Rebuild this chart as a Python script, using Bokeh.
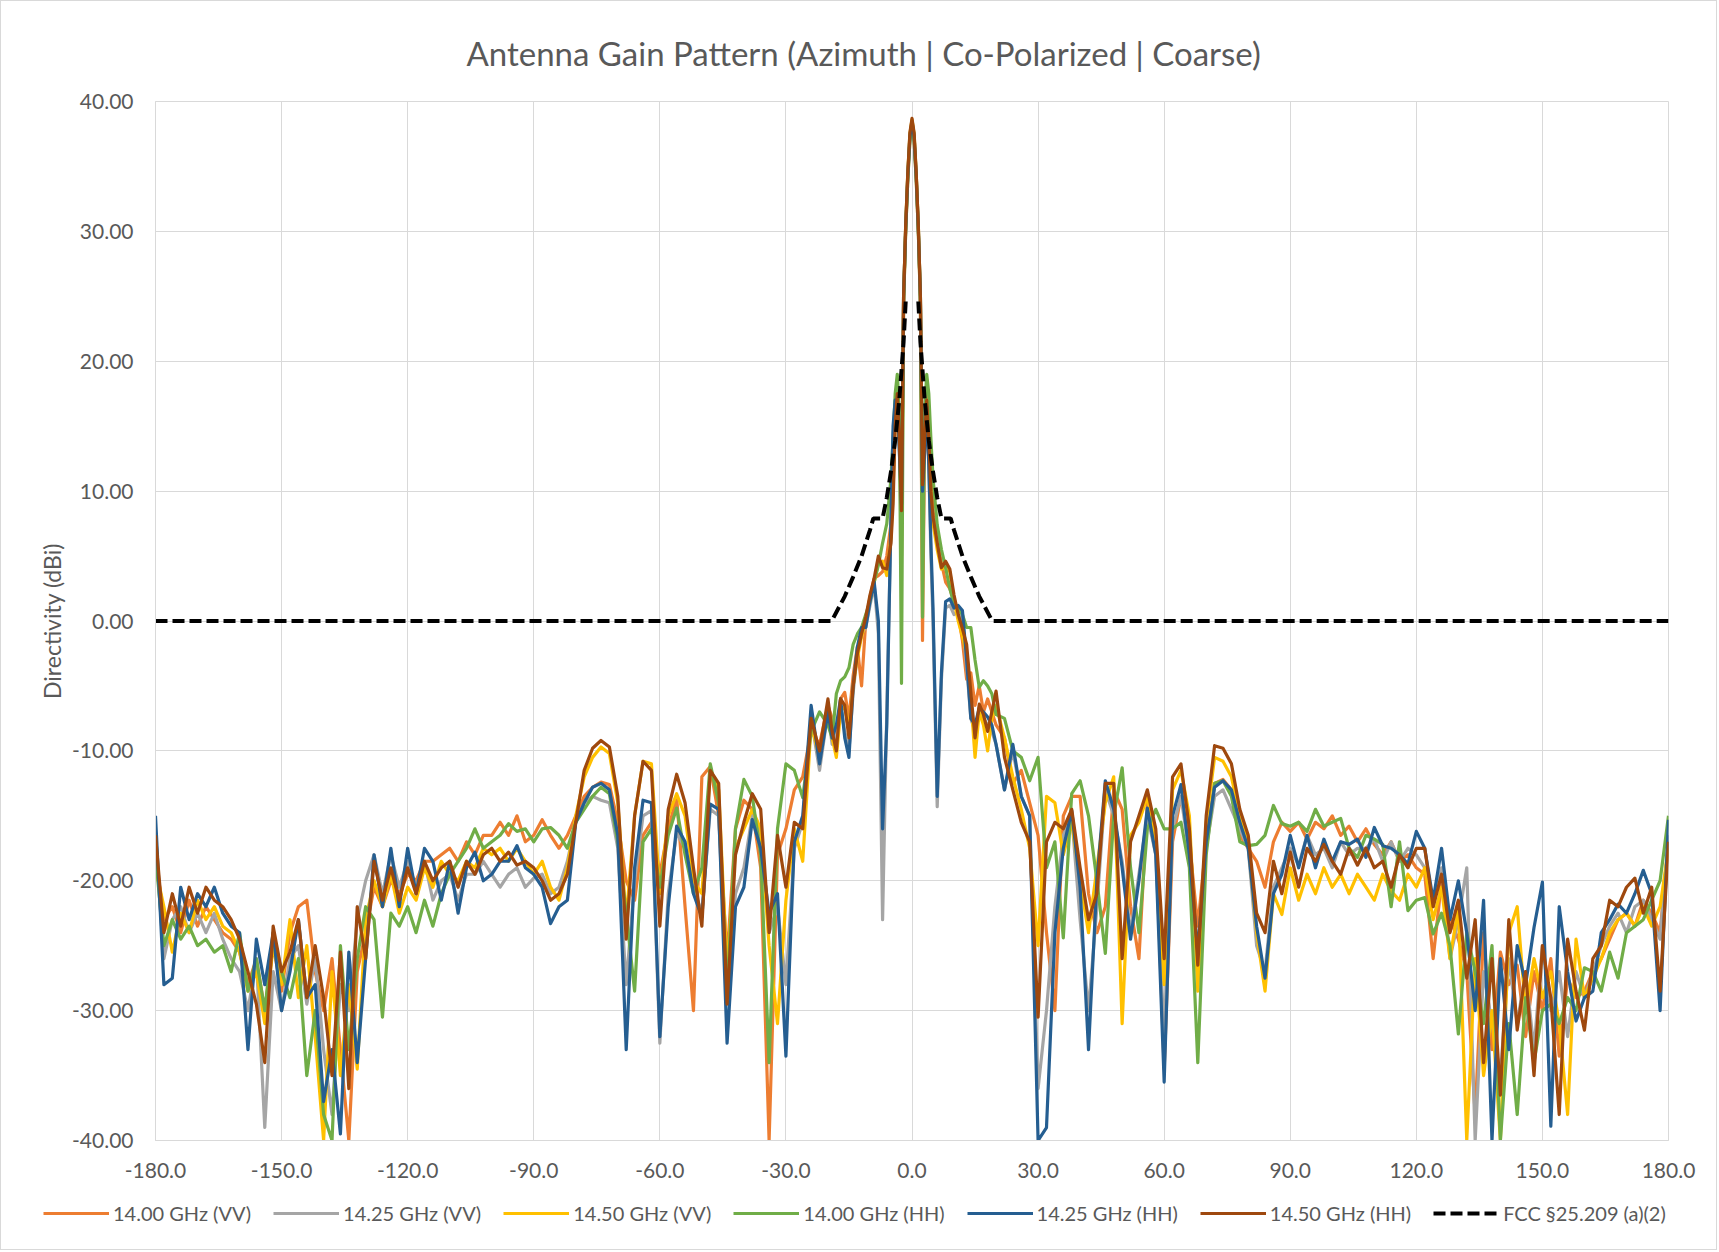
import math
from bokeh.plotting import figure
from bokeh.layouts import column
from bokeh.models import Legend, LegendItem, FixedTicker, NumeralTickFormatter, Range1d
from bokeh.embed import file_html
from bokeh.resources import INLINE

# ---------------- data ----------------
# azimuth grid (deg): 2 deg outside +-20, 1 deg to +-5, 0.5 deg in main lobe
angles = (list(range(-180, -21, 2)) + list(range(-20, -4)) + [k / 2 for k in range(-9, 10)]
          + list(range(5, 21)) + list(range(22, 181, 2)))

vv_1400 = ([-18, -23, -22, -24, -21.5, -23.5, -22, -23, -24, -24.5]
           + [-25.5, -28, -26, -30, -25, -28.5, -24, -22, -21.5, -27]
           + [-30, -26, -33, -40, -27, -24, -20.5, -22, -20, -21]
           + [-19.5, -20, -18.5, -18.5, -18, -17.5, -18.5, -17, -18, -16.5]
           + [-16.5, -15.5, -16.5, -15, -17, -16.5, -15.3, -16.5, -17.5, -16.5]
           + [-15, -13.5, -12.8, -12.4, -12.6, -15.5, -20, -21.5, -16.5, -15.5]
           + [-19.5, -16, -13.6, -22, -30, -12, -11.2, -15, -26, -16]
           + [-13.8, -14.5, -19, -40, -18, -16, -13, -12, -8.5, -9.5]
           + [-6.5, -7.5, -9.5, -6, -5.5, -7.5, -4.2, -2, -5, 0, 1.8, 3.3, 3.5, 3.8, 5, 7.5]
           + [12, 16, 17.5, 15, 5, 24.5, 30, 34, 37, 38.2, 37, 34, 30, 24.5, -1.5, 14, 18, 15, 11]
           + [8.5, 6, 4.5, 3, 2.5, 1.5, 0.5, -1.5, -4.5, -4, -6.5, -5, -7, -6, -7, -8]
           + [-9, -12.5, -11.5, -14, -16.5, -24, -30, -15, -13.5, -13.5]
           + [-21, -24, -22, -13, -14.5, -22, -26, -14, -16.5, -34.5]
           + [-17, -13.5, -17, -23.5, -17, -12.5, -12.2, -13, -16.5, -17.5]
           + [-18.5, -20.5, -17, -15.5, -16.2, -15.5, -16.8, -15.5, -16, -15]
           + [-16.5, -15.8, -17, -16, -17.2, -18, -17, -18.5, -18, -19]
           + [-19.5, -26, -20, -23, -24.5, -27, -38, -24, -33, -25.5]
           + [-28, -26.5, -32, -27, -30, -26, -33.5, -27.5, -29, -28.5]
           + [-27, -26, -24.5, -23, -22.5, -23.5, -21.5, -22.5, -24, -17])

vv_1425 = ([-17, -26, -23, -22, -24, -22.5, -24, -22.5, -24.5, -26]
           + [-27, -30, -26, -39, -27, -30, -26, -25, -29.5, -26]
           + [-33, -38, -28, -30, -23, -20, -18, -21, -18, -20.5]
           + [-18.5, -20.5, -18.5, -21.5, -20, -19.5, -21.5, -19.5, -19.5, -18.5]
           + [-19.5, -20.5, -19.5, -19, -20.5, -19.8, -19.5, -21, -20.5, -18.5]
           + [-15.5, -14, -13.5, -13.8, -14, -17.5, -28, -20, -15, -14.6]
           + [-32.5, -21, -16.3, -17.5, -20.5, -22.5, -14.5, -15, -29, -21]
           + [-19, -15, -16.5, -24, -22, -28, -17.5, -15.5, -7.5, -11.5]
           + [-7, -9.5, -8.5, -6.5, -8.5, -10, -5.5, -2.5, -1, -0.5, 1.2, 2.8, -1, -23, -7, 7.5]
           + [14, 16.5, 17, 13, 8, 25, 30.3, 34.4, 37.4, 38.5, 37.4, 34.4, 30.3, 25, 9.5, 13, 16.5, 12, 5]
           + [0, -14.3, -4.5, 1, 1.2, 0.5, 0.8, 0, -3.5, -7.5, -8.5, -7, -7.5, -8, -8.5, -9.5]
           + [-13, -10, -13.5, -15, -36, -30, -22, -16.5, -15, -23]
           + [-30, -22, -13, -15, -18.5, -24, -19.5, -15, -18, -32]
           + [-16, -13.5, -18, -26, -17.5, -13.5, -13, -14.5, -16, -17.5]
           + [-25, -27, -20.5, -19, -17.5, -18.8, -16.5, -18, -17.5, -19]
           + [-17, -18, -17.5, -17.5, -16.8, -18.5, -17, -18.5, -17.5, -18]
           + [-19, -22, -19, -26, -23, -19, -40, -27, -31, -35]
           + [-26, -31, -27, -33, -25, -30, -27, -32, -27, -29]
           + [-27, -25, -23.5, -22.5, -24, -22, -21.5, -23, -24.5, -16.5])

vv_1450 = ([-19, -22, -25.5, -22.5, -24, -21.5, -23, -22, -23.5, -24]
           + [-25.5, -28.5, -27, -31, -25, -28, -23, -29, -25, -32]
           + [-40, -27, -35, -28, -34.5, -23, -20, -22, -19.5, -22.5]
           + [-20.5, -21.5, -19, -20.5, -18.5, -19.5, -20, -18.5, -19, -17.5]
           + [-18, -17.5, -18.5, -17.5, -18.5, -19.5, -18.5, -20.5, -21.5, -19]
           + [-15, -12, -10.5, -9.7, -10.2, -14, -23, -15, -10.8, -11]
           + [-21, -15, -13.3, -15, -20, -21, -11.5, -13, -27, -17.5]
           + [-16, -14.5, -16, -25, -31, -21.5, -16, -18.5, -8, -10.5]
           + [-6.5, -9, -10.5, -7, -6.5, -8.5, -5, -2.8, -1.2, 0, 1.8, 3, 4.5, 4.6, 3.5, 6.5]
           + [10, 15.5, 17.3, 14, 8, 25, 30.5, 34.5, 37.5, 38.6, 37.5, 34.5, 30.5, 25, 10, 14, 17, 14, 10]
           + [7.5, 5.5, 4, 4.2, 3.8, 1.5, 0, -1.2, -2.5, -6, -10.5, -7, -8, -10, -7.5, -6.5]
           + [-9, -12, -14.5, -17.5, -25, -13.5, -14, -18, -15.5, -20]
           + [-24, -19, -14, -12, -31, -16.5, -15.5, -13.5, -17, -28]
           + [-13, -11.5, -15, -28.5, -15.5, -10.5, -10.8, -12, -15, -17]
           + [-24, -28.5, -21, -22.6, -19, -21.5, -19.5, -21, -19, -20.5]
           + [-19.5, -21, -19.5, -20.5, -21.5, -19.5, -20.8, -21.5, -19.5, -20.5]
           + [-19, -23, -20.5, -26, -22, -40, -26, -35, -30, -40]
           + [-24, -22, -30, -26, -29, -27, -31, -38, -24.5, -29]
           + [-27.5, -26, -24, -23, -22.5, -23.5, -22, -23.5, -22, -17.5])

hh_1400 = ([-18, -25, -23, -24.5, -23.5, -25, -24.5, -25.5, -25, -27]
           + [-24, -28.5, -26, -30, -24, -27, -29, -26, -35, -30]
           + [-38, -40, -25, -33, -26, -22, -23, -30.5, -22.5, -23.5]
           + [-22, -24, -21.5, -23.5, -21, -19.5, -18.5, -17.5, -16, -17.5]
           + [-17, -16.5, -15.6, -16.2, -16, -17, -16, -15.9, -16.5, -17.5]
           + [-15.5, -14.5, -13.5, -12.8, -13.3, -17, -22.5, -28.5, -17, -16]
           + [-20.5, -16.5, -14.4, -18, -21, -19, -11, -14, -28.7, -16]
           + [-12.2, -13.5, -18, -34, -16, -11, -11.5, -13.6, -8.5, -7]
           + [-8, -9, -5.6, -4.6, -4.3, -3.6, -1.8, -1, -0.5, 0.5, 1.5, 3, 4.3, 6, 7.5, 11]
           + [14, 17.5, 19, 16, -4.8, 24.5, 30, 34, 37, 38.2, 37, 34, 30, 24.5, 0.3, 16, 19, 17.5, 14]
           + [11, 7.4, 5.5, 4.1, 2.5, 1.3, 1, 0.5, -0.5, -0.5, -3, -5.1, -4.6, -5, -5.6, -7.2]
           + [-7.5, -10, -10.5, -12.3, -10.5, -19, -17, -24.4, -13.3, -12.3]
           + [-15, -20, -25.6, -15, -11.3, -19, -24, -16, -14.5, -16]
           + [-16, -15.5, -19, -34, -18, -12.5, -12.3, -13.5, -17, -17.3]
           + [-17.2, -16.5, -14.2, -15.6, -15.8, -15.5, -16.2, -14.5, -15.8, -15.5]
           + [-15.2, -17.5, -18.2, -16.5, -16.8, -17.2, -22, -17, -22.3, -21.5]
           + [-21.3, -24.1, -22.5, -25, -31.8, -24, -27, -31, -25, -40]
           + [-31, -38, -29, -34, -30, -29.5, -31, -29, -30, -26.7]
           + [-27, -28.5, -25.5, -27.5, -24, -23.5, -23, -21.5, -20, -15])

hh_1425 = ([-15, -28, -27.5, -20.5, -23, -21, -22, -20.5, -22.5, -23.5]
           + [-24, -33, -24.5, -28, -24, -30, -27, -23, -29, -28]
           + [-37, -33, -39.5, -25.5, -34, -26, -18, -22, -17.5, -22]
           + [-17.5, -21, -17.5, -18.5, -21.5, -18.5, -22.5, -19, -17.8, -20]
           + [-19.5, -18.5, -18.5, -17.3, -19, -19.5, -20.5, -23.3, -22, -21.5]
           + [-15.5, -14, -12.8, -12.5, -13, -16.5, -33, -19, -13.8, -14]
           + [-32, -22, -15.8, -17, -21, -22.8, -14.1, -14.5, -32.5, -22]
           + [-20.5, -15.3, -17.5, -22.5, -21, -33.5, -17, -15, -6.5, -11]
           + [-7, -9, -8, -6, -9, -10.5, -5, -2, -0.5, -0.5, 1.5, 3, 0, -16, -8, 8]
           + [15, 17, 17, 13, 9, 25, 30.3, 34.3, 37.3, 38.4, 37.3, 34.3, 30.3, 25, 10, 13, 16.5, 12, 6]
           + [1, -13.5, -4, 1.5, 1.7, 1, 1.2, 0.8, -3, -7.5, -8, -6.7, -7, -7.4, -8, -9.5]
           + [-13, -9.5, -13.5, -15, -40, -39, -24, -17.5, -14.6, -20.5]
           + [-33, -20, -12.3, -14.5, -19, -24.5, -20, -14.4, -18, -35.5]
           + [-15, -12.6, -18, -25.5, -17, -12.8, -12.3, -13, -15.5, -17.5]
           + [-23.5, -27.5, -21, -19.5, -16.5, -19, -16.5, -19, -16.8, -18.5]
           + [-17, -17.2, -16.8, -18.2, -15.9, -17.3, -17.5, -18, -18.7, -16.2]
           + [-17.5, -21.5, -17.5, -23, -20, -24, -30, -21.5, -40, -26]
           + [-33, -25, -28, -23.6, -20.1, -38.9, -22, -27, -30.8, -29]
           + [-28.5, -24, -23, -21.8, -22.5, -21, -19.2, -21, -30, -15.3])

hh_1450 = ([-16.5, -24, -21, -23.5, -20.5, -22.5, -20.5, -21.5, -22, -23]
           + [-24.5, -27, -29.5, -34, -23.5, -27, -25.5, -23, -29, -25]
           + [-29, -35, -25.5, -36, -22, -26, -18.5, -21.5, -19, -21.5]
           + [-19, -21, -18.5, -20, -19, -18.5, -20.5, -18.5, -19.5, -18]
           + [-17.5, -18.5, -17.8, -18.8, -18.5, -19, -20, -21.5, -21, -19.5]
           + [-15.5, -11.5, -9.8, -9.2, -9.7, -13.5, -24.5, -15, -10.8, -11.5]
           + [-23.5, -14.5, -11.8, -14, -19, -23.5, -11.5, -12.5, -29.5, -18]
           + [-15.5, -13.3, -14.5, -24, -16.5, -20.5, -15.5, -16, -7.5, -10]
           + [-6, -8.5, -10, -6, -6.5, -9, -5, -2.5, -1, 0.3, 2, 3.3, 5, 4.1, 4, 6]
           + [9, 15, 17.5, 14, 8.5, 25, 30.5, 34.5, 37.6, 38.7, 37.6, 34.5, 30.5, 25, 10.5, 14, 17, 14, 10]
           + [8, 6, 4.1, 4.6, 4, 2, 0.5, -0.6, -1.8, -5.5, -9, -6.4, -7.2, -8.5, -7, -5.4]
           + [-10.5, -13, -15.5, -17, -30.5, -17, -15.5, -16, -14.5, -19]
           + [-23, -21, -12.5, -12.5, -26, -17, -15, -13, -16, -26]
           + [-12, -11, -16, -26.5, -15, -9.6, -9.8, -11, -14.5, -16.5]
           + [-22.5, -24, -18.5, -21, -17.8, -20.5, -17.5, -18.5, -17.2, -18.5]
           + [-19.5, -17.5, -18.8, -17.5, -19, -18.5, -20.5, -18, -19, -17.5]
           + [-17.5, -22, -19.5, -24, -21.5, -27.5, -23, -34, -26, -36.5]
           + [-23, -31.5, -27, -35, -25, -29, -38, -24.5, -28.5, -31.5]
           + [-26, -25, -21.5, -22, -20.5, -19.8, -22.5, -20.5, -28.5, -17])

# FCC 25.209(a)(2) mask; gap in the centre
mask_deg = [-180, -19.1, -16, -14, -12, -10, -9.2, -7, -6, -5, -4, -3, -2, -1.5, float("nan"),
            1.5, 2, 3, 4, 5, 6, 7, 9.2, 10, 12, 14, 16, 19.1, 180]
mask_val = [0, 0, 1.9, 3.4, 5.0, 7.0, 7.9, 7.9, 9.5, 11.5, 13.9, 17.1, 21.5, 24.6, float("nan"),
            24.6, 21.5, 17.1, 13.9, 11.5, 9.5, 7.9, 7.9, 7.0, 5.0, 3.4, 1.9, 0, 0]

series_names = ["14.00 GHz (VV)", "14.25 GHz (VV)", "14.50 GHz (VV)",
                "14.00 GHz (HH)", "14.25 GHz (HH)", "14.50 GHz (HH)"]
mask_name = "FCC §25.209 (a)(2)"
x_ticks = [-180, -150, -120, -90, -60, -30, 0, 30, 60, 90, 120, 150, 180]
y_ticks = [-40, -30, -20, -10, 0, 10, 20, 30, 40]

series = [vv_1400, vv_1425, vv_1450, hh_1400, hh_1425, hh_1450]
for s in series:
    assert len(s) == len(angles), (len(s), len(angles))

colors = ["#ED7D31", "#A5A5A5", "#FFC000", "#70AD47", "#255E91", "#9E480E"]
FONT = "Lato"
TXT = "#595959"
GRID = "#d9d9d9"
LW = 3.2
MASK_DASH = "12 5"

# ---------------- main chart ----------------
p = figure(width=1715, height=1184, x_range=Range1d(-180, 180), y_range=Range1d(-40, 40),
           output_backend="svg", toolbar_location=None,
           min_border_left=154, min_border_right=48, min_border_top=99, min_border_bottom=45,
           title="Antenna Gain Pattern (Azimuth | Co-Polarized | Coarse)")
p.frame_align = False

p.title.align = "left"
p.title.offset = 311
p.title.text_font = FONT
p.title.text_font_size = "33px"
p.title.text_font_style = "normal"
p.title.text_color = TXT
p.title.standoff = 58

p.outline_line_color = GRID

for ax in (p.xaxis[0], p.yaxis[0]):
    ax.axis_line_color = GRID
    ax.major_tick_line_color = None
    ax.minor_tick_line_color = None
    ax.major_label_text_font = FONT
    ax.major_label_text_font_size = "21px"
    ax.major_label_text_color = TXT

p.xaxis.ticker = FixedTicker(ticks=x_ticks)
p.xaxis.formatter = NumeralTickFormatter(format="0.0")
p.xaxis.major_label_standoff = 16
p.yaxis.ticker = FixedTicker(ticks=y_ticks)
p.yaxis.formatter = NumeralTickFormatter(format="0.00")
p.yaxis.major_label_standoff = 16
p.yaxis.axis_label = "Directivity (dBi)"
p.yaxis.axis_label_text_font = FONT
p.yaxis.axis_label_text_font_size = "23px"
p.yaxis.axis_label_text_font_style = "normal"
p.yaxis.axis_label_text_color = TXT
p.yaxis.axis_label_standoff = 3

p.xgrid.ticker = FixedTicker(ticks=x_ticks)
p.ygrid.ticker = FixedTicker(ticks=y_ticks)
p.xgrid.grid_line_color = GRID
p.ygrid.grid_line_color = GRID

for vals, col in zip(series, colors):
    p.line(angles, vals, line_color=col, line_width=LW, line_join="round")
p.line(mask_deg, mask_val, line_color="black", line_width=4, line_dash=MASK_DASH)

# ---------------- legend strip ----------------
# same series drawn again but outside the visible y-range, only to feed the legend
lf = figure(width=1715, height=64, x_range=Range1d(-180, 180), y_range=Range1d(100, 101),
            output_backend="svg", toolbar_location=None, title=None,
            x_axis_type=None, y_axis_type=None, min_border=0)
lf.frame_align = False
lf.outline_line_color = None
lf.grid.visible = False

items = []
for name, vals, col in zip(series_names, series, colors):
    r = lf.line(angles, vals, line_color=col, line_width=LW)
    items.append(LegendItem(label=name, renderers=[r]))
rm = lf.line(mask_deg, mask_val, line_color="black", line_width=4, line_dash=MASK_DASH)
items.append(LegendItem(label=mask_name, renderers=[rm]))

legend = Legend(items=items, orientation="horizontal", location=(42, 24),
                label_text_font=FONT, label_text_font_size="20px", label_text_color=TXT,
                glyph_width=66, glyph_height=20, label_standoff=4, spacing=22,
                padding=6, margin=0, border_line_color=None, background_fill_alpha=0)
lf.add_layout(legend)

layout = column(p, lf, spacing=0, styles={"border": "1px solid #d9d9d9"})

open("out.html", "w").write(file_html(layout, INLINE))
